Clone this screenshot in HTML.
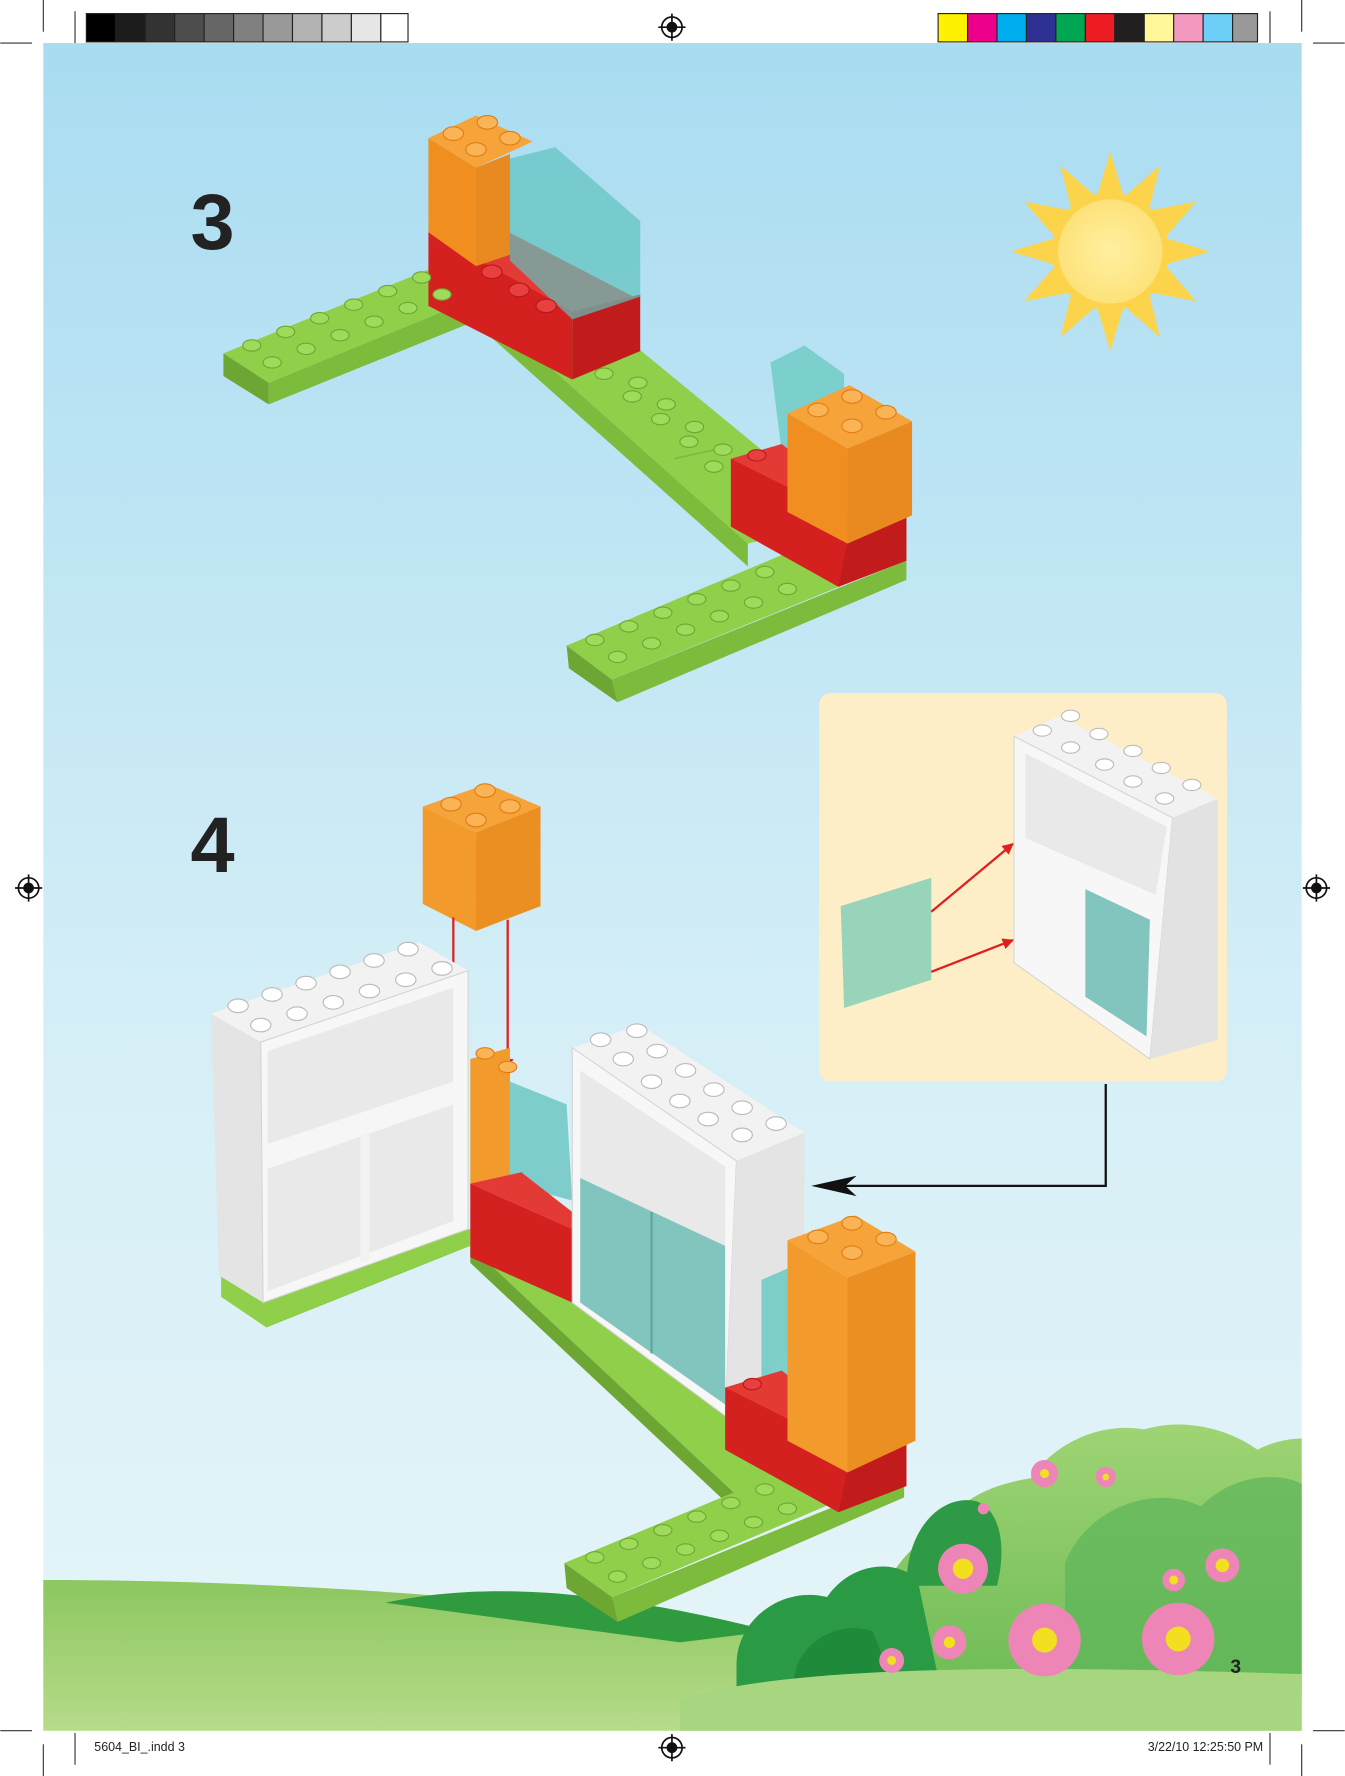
<!DOCTYPE html>
<html><head><meta charset="utf-8"><style>
html,body{margin:0;padding:0;background:#fff;}
svg{display:block;}
</style></head><body>
<svg width="1345" height="1776" viewBox="0 0 1187 1568" xmlns="http://www.w3.org/2000/svg">
<defs>
<linearGradient id="sky" x1="0" y1="0" x2="0" y2="1">
<stop offset="0" stop-color="#a9dcf1"/><stop offset="0.6" stop-color="#d6eff7"/><stop offset="1" stop-color="#e6f5f8"/>
</linearGradient>
<linearGradient id="grass" x1="0" y1="0" x2="0" y2="1">
<stop offset="0" stop-color="#8cc760"/><stop offset="1" stop-color="#b7db8a"/>
</linearGradient>
<linearGradient id="bush" x1="0" y1="0" x2="0" y2="1">
<stop offset="0" stop-color="#9fd474"/><stop offset="1" stop-color="#6dbb55"/>
</linearGradient>
<radialGradient id="sun"><stop offset="0" stop-color="#fff0a0"/><stop offset="1" stop-color="#fde27a"/></radialGradient>
<marker id="ar" markerWidth="10" markerHeight="12" refX="9" refY="6" orient="auto" markerUnits="userSpaceOnUse"><path d="M0,1 L10,6 L0,11 z" fill="#e02020"/></marker>
</defs>
<rect width="1187" height="1568" fill="#fff"/>
<g stroke="#333" stroke-width="1">
<line x1="0" y1="38" x2="28" y2="38"/><line x1="38" y1="0" x2="38" y2="28"/>
<line x1="1159" y1="38" x2="1187" y2="38"/><line x1="1149" y1="0" x2="1149" y2="28"/>
<line x1="0" y1="1528" x2="28" y2="1528"/><line x1="38" y1="1540" x2="38" y2="1568"/>
<line x1="1159" y1="1528" x2="1187" y2="1528"/><line x1="1149" y1="1540" x2="1149" y2="1568"/>
<line x1="66" y1="10" x2="66" y2="38"/><line x1="1121" y1="10" x2="1121" y2="38"/>
<line x1="66" y1="1530" x2="66" y2="1558"/><line x1="1121" y1="1530" x2="1121" y2="1558"/>
</g>
<g stroke="#222" stroke-width="1">
<rect x="76" y="12" width="26" height="25" fill="#000"/><rect x="102" y="12" width="26" height="25" fill="#1c1c1c"/>
<rect x="128" y="12" width="26" height="25" fill="#333"/><rect x="154" y="12" width="26" height="25" fill="#4d4d4d"/>
<rect x="180" y="12" width="26" height="25" fill="#666"/><rect x="206" y="12" width="26" height="25" fill="#808080"/>
<rect x="232" y="12" width="26" height="25" fill="#999"/><rect x="258" y="12" width="26" height="25" fill="#b3b3b3"/>
<rect x="284" y="12" width="26" height="25" fill="#ccc"/><rect x="310" y="12" width="26" height="25" fill="#e6e6e6"/>
<rect x="336" y="12" width="24" height="25" fill="#fff"/>
<rect x="828" y="12" width="26" height="25" fill="#fff200"/><rect x="854" y="12" width="26" height="25" fill="#ec008c"/>
<rect x="880" y="12" width="26" height="25" fill="#00aeef"/><rect x="906" y="12" width="26" height="25" fill="#2e3192"/>
<rect x="932" y="12" width="26" height="25" fill="#00a651"/><rect x="958" y="12" width="26" height="25" fill="#ed1c24"/>
<rect x="984" y="12" width="26" height="25" fill="#231f20"/><rect x="1010" y="12" width="26" height="25" fill="#fff799"/>
<rect x="1036" y="12" width="26" height="25" fill="#f49ac1"/><rect x="1062" y="12" width="26" height="25" fill="#6dcff6"/>
<rect x="1088" y="12" width="22" height="25" fill="#999"/>
</g>
<g stroke="#111" stroke-width="1.5" fill="none">
<g transform="translate(593,24)"><circle r="9"/><circle r="4" fill="#111"/><line x1="-12" y1="0" x2="12" y2="0"/><line x1="0" y1="-12" x2="0" y2="12"/></g>
<g transform="translate(25,784)"><circle r="9"/><circle r="4" fill="#111"/><line x1="-12" y1="0" x2="12" y2="0"/><line x1="0" y1="-12" x2="0" y2="12"/></g>
<g transform="translate(1162,784)"><circle r="9"/><circle r="4" fill="#111"/><line x1="-12" y1="0" x2="12" y2="0"/><line x1="0" y1="-12" x2="0" y2="12"/></g>
<g transform="translate(593,1543)"><circle r="9"/><circle r="4" fill="#111"/><line x1="-12" y1="0" x2="12" y2="0"/><line x1="0" y1="-12" x2="0" y2="12"/></g>
</g>
<rect x="38" y="38" width="1111" height="1490" fill="url(#sky)"/>
<!-- ground -->
<path d="M38,1395 C300,1395 600,1420 800,1470 L1149,1500 L1149,1528 L38,1528 Z" fill="url(#grass)"/>
<path d="M340,1415 C420,1398 520,1400 680,1440 L600,1450 Z" fill="#2f9a3e"/>
<!-- bushes -->
<path d="M770,1490 C760,1420 790,1370 830,1350 C850,1320 880,1310 910,1305 C930,1275 970,1255 1010,1262 C1050,1250 1090,1265 1110,1280 C1125,1272 1140,1270 1149,1270 L1149,1500 Z" fill="url(#bush)"/>
<path d="M940,1380 C960,1330 1020,1310 1060,1330 C1090,1300 1130,1300 1149,1310 L1149,1490 L940,1490 Z" fill="#5cb55a" opacity="0.7"/>
<path d="M800,1400 C800,1350 830,1320 860,1325 C880,1330 890,1360 880,1400 Z" fill="#2e9a45"/>
<path d="M650,1470 C650,1430 690,1400 730,1410 C750,1380 790,1375 810,1395 L830,1490 L650,1490 Z" fill="#2b9a44"/>
<path d="M700,1490 C700,1450 740,1430 770,1440 L790,1490 Z" fill="#1f8a3a"/>
<path d="M600,1500 C700,1470 900,1470 1149,1478 L1149,1528 L600,1528 Z" fill="#a8d680"/>
<g fill="#ee85b7">
<circle cx="850" cy="1385" r="22"/><circle cx="922" cy="1448" r="32"/><circle cx="1040" cy="1447" r="32"/>
<circle cx="838" cy="1450" r="15"/><circle cx="787" cy="1466" r="11"/><circle cx="1079" cy="1382" r="15"/>
<circle cx="1036" cy="1395" r="10"/><circle cx="922" cy="1301" r="12"/><circle cx="976" cy="1304" r="9"/><circle cx="868" cy="1332" r="5"/>
</g>
<g fill="#f2e020">
<circle cx="850" cy="1385" r="9"/><circle cx="922" cy="1448" r="11"/><circle cx="1040" cy="1447" r="11"/>
<circle cx="838" cy="1450" r="5"/><circle cx="787" cy="1466" r="4"/><circle cx="1079" cy="1382" r="6"/><circle cx="922" cy="1301" r="4"/><circle cx="976" cy="1304" r="3"/><circle cx="1036" cy="1395" r="4"/>
</g>
<!-- sun -->
<g transform="translate(980,222)">
<polygon fill="#fbd44c" points="0,-88 12,-48 44,-76 34,-36 76,-44 48,-12 88,0 48,12 76,44 34,36 44,76 12,48 0,88 -12,48 -44,76 -34,36 -76,44 -48,12 -88,0 -48,-12 -76,-44 -34,-36 -44,-76 -12,-48"/>
<circle r="52" fill="#fbd44c"/><circle r="46" fill="url(#sun)"/>
</g>
<text x="168" y="220" font-family="Liberation Sans, sans-serif" font-weight="bold" font-size="70" fill="#222">3</text>
<text x="168" y="770" font-family="Liberation Sans, sans-serif" font-weight="bold" font-size="70" fill="#222">4</text>
<text x="1086" y="1477" font-family="Liberation Sans, sans-serif" font-weight="bold" font-size="17" fill="#222">3</text>
<text x="83" y="1546" font-family="Liberation Sans, sans-serif" font-size="11" fill="#222">5604_BI_.indd   3</text>
<text x="1115" y="1546" text-anchor="end" font-family="Liberation Sans, sans-serif" font-size="11" fill="#222">3/22/10   12:25:50 PM</text>

<!-- STEP 3 -->
<g>
<polygon points="197,312 378,238 418,264 237,338" fill="#8fcf4a"/>
<polygon points="197,312 237,338 237,357 197,332" fill="#6ea633"/>
<polygon points="237,338 418,264 418,284 237,357" fill="#7cbb3c"/>
<!-- diagonal plate -->
<polygon points="418,264 560,305 700,420 700,470 660,480" fill="#8fcf4a"/>
<polygon points="418,264 660,480 660,500 418,284" fill="#7cbb3c"/>
<line x1="595" y1="405" x2="640" y2="395" stroke="#7cbb3c" stroke-width="1.5"/>
<!-- lower plate -->
<polygon points="500,570 690,490 760,510 540,600" fill="#8fcf4a"/>
<polygon points="500,570 540,600 545,620 502,590" fill="#6ea633"/>
<polygon points="540,600 800,495 800,512 545,620" fill="#7cbb3c"/>
<!-- red brick -->
<polygon points="378,205 420,190 565,265 505,280" fill="#e43a36"/>
<polygon points="378,205 505,275 505,335 378,270" fill="#d4201f"/>
<polygon points="505,275 565,260 565,310 505,335" fill="#c21b1b"/>
<!-- orange column -->
<polygon points="378,122 420,102 470,125 420,148" fill="#f6a33a"/>
<polygon points="378,122 420,148 420,235 378,205" fill="#f08f20"/>
<polygon points="420,148 450,136 450,225 420,235" fill="#e88a1f"/>
<!-- teal -->
<polygon points="450,140 490,130 565,195 565,262 505,282 450,230" fill="#5fc2bd" opacity="0.7"/>
<g fill="#e84040" stroke="#b81818"><ellipse cx="458" cy="256" rx="9" ry="6"/><ellipse cx="482" cy="270" rx="9" ry="6"/><ellipse cx="434" cy="240" rx="9" ry="6"/></g>
<!-- right -->
<polygon points="680,320 710,305 745,330 745,400 690,400" fill="#6ccac3" opacity="0.8"/>
<polygon points="645,405 690,392 700,400 700,460" fill="#e43a36"/>
<polygon points="645,405 695,430 695,458 740,480 740,518 645,465" fill="#d4201f"/>
<polygon points="695,450 748,478 800,455 800,495 740,518 695,492" fill="#d4201f"/>
<polygon points="748,478 800,455 800,495 740,518" fill="#c21b1b"/>
<polygon points="695,365 750,340 805,372 748,396" fill="#f6a33a"/>
<polygon points="695,365 748,396 748,480 695,452" fill="#f08f20"/>
<polygon points="748,396 805,372 805,455 748,480" fill="#e88a1f"/>
</g>
<g fill="#9edb5b" stroke="#6ea633" stroke-width="1">
<ellipse cx="222" cy="305" rx="8" ry="5"/><ellipse cx="252" cy="293" rx="8" ry="5"/><ellipse cx="282" cy="281" rx="8" ry="5"/><ellipse cx="312" cy="269" rx="8" ry="5"/><ellipse cx="342" cy="257" rx="8" ry="5"/><ellipse cx="372" cy="245" rx="8" ry="5"/>
<ellipse cx="240" cy="320" rx="8" ry="5"/><ellipse cx="270" cy="308" rx="8" ry="5"/><ellipse cx="300" cy="296" rx="8" ry="5"/><ellipse cx="330" cy="284" rx="8" ry="5"/><ellipse cx="360" cy="272" rx="8" ry="5"/><ellipse cx="390" cy="260" rx="8" ry="5"/>
<ellipse cx="533" cy="330" rx="8" ry="5"/><ellipse cx="563" cy="338" rx="8" ry="5"/><ellipse cx="558" cy="350" rx="8" ry="5"/><ellipse cx="588" cy="357" rx="8" ry="5"/><ellipse cx="583" cy="370" rx="8" ry="5"/><ellipse cx="613" cy="377" rx="8" ry="5"/><ellipse cx="608" cy="390" rx="8" ry="5"/><ellipse cx="638" cy="397" rx="8" ry="5"/><ellipse cx="630" cy="412" rx="8" ry="5"/>
<ellipse cx="525" cy="565" rx="8" ry="5"/><ellipse cx="555" cy="553" rx="8" ry="5"/><ellipse cx="585" cy="541" rx="8" ry="5"/><ellipse cx="615" cy="529" rx="8" ry="5"/><ellipse cx="645" cy="517" rx="8" ry="5"/><ellipse cx="675" cy="505" rx="8" ry="5"/>
<ellipse cx="545" cy="580" rx="8" ry="5"/><ellipse cx="575" cy="568" rx="8" ry="5"/><ellipse cx="605" cy="556" rx="8" ry="5"/><ellipse cx="635" cy="544" rx="8" ry="5"/><ellipse cx="665" cy="532" rx="8" ry="5"/><ellipse cx="695" cy="520" rx="8" ry="5"/>
</g>
<g fill="#fbb455" stroke="#e07d15" stroke-width="1">
<ellipse cx="400" cy="118" rx="9" ry="6"/><ellipse cx="430" cy="108" rx="9" ry="6"/><ellipse cx="420" cy="132" rx="9" ry="6"/><ellipse cx="450" cy="122" rx="9" ry="6"/>
<ellipse cx="722" cy="362" rx="9" ry="6"/><ellipse cx="752" cy="350" rx="9" ry="6"/><ellipse cx="752" cy="376" rx="9" ry="6"/><ellipse cx="782" cy="364" rx="9" ry="6"/>
</g>
<g fill="#e84040" stroke="#b81818"><ellipse cx="668" cy="402" rx="8" ry="5"/></g>

<!-- STEP 4 -->
<g>
<polygon points="373,712 430,692 477,712 420,735" fill="#f6a33a"/>
<polygon points="373,712 420,735 420,822 373,798" fill="#f29a2c"/>
<polygon points="420,735 477,712 477,800 420,822" fill="#ec8f22"/>
<g fill="#fbb455" stroke="#e07d15"><ellipse cx="398" cy="710" rx="9" ry="6"/><ellipse cx="428" cy="698" rx="9" ry="6"/><ellipse cx="420" cy="724" rx="9" ry="6"/><ellipse cx="450" cy="712" rx="9" ry="6"/></g>
<line x1="400" y1="810" x2="400" y2="930" stroke="#e02020" stroke-width="2"/>
<line x1="448" y1="812" x2="448" y2="944" stroke="#e02020" stroke-width="2" marker-end="url(#ar)"/>
<!-- diagonal plate -->
<polygon points="415,1085 500,1120 700,1290 700,1310 650,1320 415,1100" fill="#8fcf4a"/>
<polygon points="415,1100 650,1320 650,1335 415,1115" fill="#6ea633"/>
<polygon points="498,1380 690,1300 740,1325 540,1410" fill="#8fcf4a"/>
<polygon points="498,1380 540,1410 545,1432 500,1402" fill="#6ea633"/>
<polygon points="540,1410 798,1305 798,1322 545,1432" fill="#7cbb3c"/>
<polygon points="195,1120 232,1145 415,1085 415,1100 235,1172 195,1145" fill="#8fcf4a"/>
<!-- left white shelf -->
<polygon points="186,895 370,832 413,857 230,920" fill="#f2f2f2"/>
<polygon points="186,895 230,920 232,1150 193,1126" fill="#e4e4e4"/>
<polygon points="230,920 413,857 413,1085 232,1150" fill="#f7f7f7" stroke="#d5d5d5"/>
<polygon points="236,928 400,872 400,1078 236,1140" fill="#e9e9e9"/>
<polygon points="236,1010 400,955 400,975 236,1032" fill="#f6f6f6"/>
<polygon points="318,1002 326,1000 326,1112 318,1114" fill="#f2f2f2"/>
<!-- middle orange/teal/red -->
<polygon points="415,935 450,925 450,1045 415,1050" fill="#f29a2c"/>
<polygon points="450,955 500,975 505,1060 450,1045" fill="#5fc2bd" opacity="0.75"/>
<polygon points="415,1045 460,1035 505,1070 505,1085" fill="#e43a36"/>
<polygon points="415,1045 505,1085 505,1150 415,1110" fill="#d4201f"/>
<!-- center white shelf -->
<polygon points="505,925 565,905 710,1000 650,1025" fill="#f2f2f2"/>
<polygon points="505,925 650,1025 640,1250 505,1150" fill="#f7f7f7" stroke="#d5d5d5"/>
<polygon points="650,1025 710,1000 710,1180 640,1250" fill="#e4e4e4"/>
<polygon points="512,945 640,1030 640,1100 512,1040" fill="#e9e9e9"/>
<polygon points="512,1040 640,1100 640,1240 512,1150" fill="#74bfb8" opacity="0.9"/>
<line x1="575" y1="1070" x2="575" y2="1195" stroke="#5ea7a0" stroke-width="2"/>
<!-- right -->
<polygon points="672,1130 695,1120 695,1220 672,1225" fill="#6ccac3" opacity="0.85"/>
<polygon points="640,1225 690,1210 700,1218 700,1275" fill="#e43a36"/>
<polygon points="640,1225 700,1255 700,1275 740,1300 740,1335 640,1280" fill="#d4201f"/>
<polygon points="695,1270 748,1298 800,1272 800,1312 740,1335 695,1310" fill="#d4201f"/>
<polygon points="748,1298 800,1272 800,1312 740,1335" fill="#c21b1b"/>
<polygon points="695,1095 755,1073 808,1105 748,1128" fill="#f6a33a"/>
<polygon points="695,1095 748,1128 748,1300 695,1272" fill="#f29a2c"/>
<polygon points="748,1128 808,1105 808,1272 748,1300" fill="#ec8f22"/>
<g fill="#fbb455" stroke="#e07d15"><ellipse cx="722" cy="1092" rx="9" ry="6"/><ellipse cx="752" cy="1080" rx="9" ry="6"/><ellipse cx="752" cy="1106" rx="9" ry="6"/><ellipse cx="782" cy="1094" rx="9" ry="6"/><ellipse cx="428" cy="930" rx="8" ry="5"/><ellipse cx="448" cy="942" rx="8" ry="5"/></g>
<g fill="#e84040" stroke="#b81818"><ellipse cx="664" cy="1222" rx="8" ry="5"/></g>
</g>
<g fill="#fff" stroke="#bbb" stroke-width="1">
<ellipse cx="210" cy="888" rx="9" ry="6"/><ellipse cx="240" cy="878" rx="9" ry="6"/><ellipse cx="270" cy="868" rx="9" ry="6"/><ellipse cx="300" cy="858" rx="9" ry="6"/><ellipse cx="330" cy="848" rx="9" ry="6"/><ellipse cx="360" cy="838" rx="9" ry="6"/>
<ellipse cx="230" cy="905" rx="9" ry="6"/><ellipse cx="262" cy="895" rx="9" ry="6"/><ellipse cx="294" cy="885" rx="9" ry="6"/><ellipse cx="326" cy="875" rx="9" ry="6"/><ellipse cx="358" cy="865" rx="9" ry="6"/><ellipse cx="390" cy="855" rx="9" ry="6"/>
<ellipse cx="530" cy="918" rx="9" ry="6"/><ellipse cx="562" cy="910" rx="9" ry="6"/><ellipse cx="550" cy="935" rx="9" ry="6"/><ellipse cx="580" cy="928" rx="9" ry="6"/><ellipse cx="575" cy="955" rx="9" ry="6"/><ellipse cx="605" cy="945" rx="9" ry="6"/>
<ellipse cx="600" cy="972" rx="9" ry="6"/><ellipse cx="630" cy="962" rx="9" ry="6"/><ellipse cx="625" cy="988" rx="9" ry="6"/><ellipse cx="655" cy="978" rx="9" ry="6"/><ellipse cx="655" cy="1002" rx="9" ry="6"/><ellipse cx="685" cy="992" rx="9" ry="6"/>
</g>
<g fill="#9edb5b" stroke="#6ea633" stroke-width="1">
<ellipse cx="525" cy="1375" rx="8" ry="5"/><ellipse cx="555" cy="1363" rx="8" ry="5"/><ellipse cx="585" cy="1351" rx="8" ry="5"/><ellipse cx="615" cy="1339" rx="8" ry="5"/><ellipse cx="645" cy="1327" rx="8" ry="5"/><ellipse cx="675" cy="1315" rx="8" ry="5"/>
<ellipse cx="545" cy="1392" rx="8" ry="5"/><ellipse cx="575" cy="1380" rx="8" ry="5"/><ellipse cx="605" cy="1368" rx="8" ry="5"/><ellipse cx="635" cy="1356" rx="8" ry="5"/><ellipse cx="665" cy="1344" rx="8" ry="5"/><ellipse cx="695" cy="1332" rx="8" ry="5"/>
</g>

<!-- inset -->
<rect x="723" y="612" width="360" height="343" rx="10" fill="#fdeec7"/>
<polygon points="895,650 935,632 1075,705 1035,722" fill="#f2f2f2"/>
<polygon points="895,650 1035,722 1015,935 895,850" fill="#f7f7f7" stroke="#d5d5d5"/>
<polygon points="1035,722 1075,705 1075,918 1015,935" fill="#e2e2e2"/>
<polygon points="905,665 1030,730 1020,790 905,740" fill="#e9e9e9"/>
<polygon points="958,785 1015,812 1012,915 958,880" fill="#74bfb8" opacity="0.9"/>
<g fill="#fff" stroke="#bbb"><ellipse cx="920" cy="645" rx="8" ry="5"/><ellipse cx="945" cy="632" rx="8" ry="5"/><ellipse cx="945" cy="660" rx="8" ry="5"/><ellipse cx="970" cy="648" rx="8" ry="5"/><ellipse cx="975" cy="675" rx="8" ry="5"/><ellipse cx="1000" cy="663" rx="8" ry="5"/><ellipse cx="1000" cy="690" rx="8" ry="5"/><ellipse cx="1025" cy="678" rx="8" ry="5"/><ellipse cx="1028" cy="705" rx="8" ry="5"/><ellipse cx="1052" cy="693" rx="8" ry="5"/></g>
<polygon points="742,800 822,775 822,865 745,890" fill="#8cd0b8" opacity="0.9"/>
<line x1="822" y1="805" x2="894" y2="745" stroke="#e02020" stroke-width="2" marker-end="url(#ar)"/>
<line x1="822" y1="858" x2="894" y2="830" stroke="#e02020" stroke-width="2" marker-end="url(#ar)"/>
<!-- connector -->
<polyline points="976,957 976,1047 745,1047" fill="none" stroke="#111" stroke-width="2"/>
<polygon points="716,1047 756,1038 746,1047 756,1056" fill="#111"/>
</svg>
</body></html>
